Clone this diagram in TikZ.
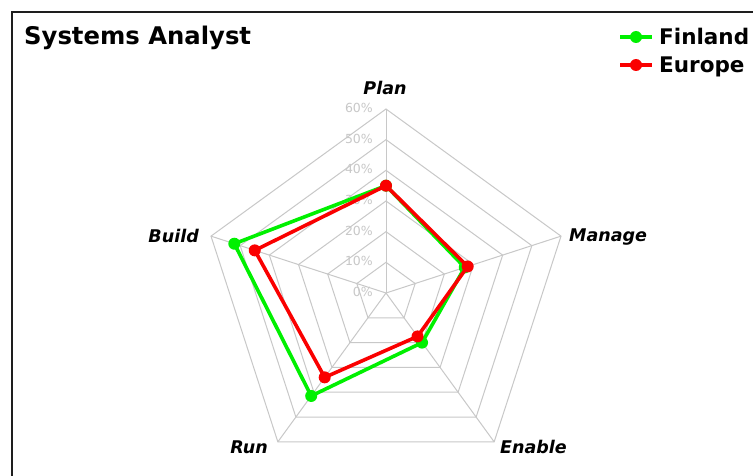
\documentclass[tikz,border=0pt]{standalone}
\usepackage{fontspec}
\setmainfont{DejaVu Sans}
\usetikzlibrary{calc}
\definecolor{gridgray}{RGB}{200,200,200}
\definecolor{fingreen}{RGB}{0,240,0}
\definecolor{eured}{RGB}{250,0,0}
\definecolor{framegray}{RGB}{30,30,30}
\tikzset{
  grid line/.style={draw=gridgray, line width=1pt},
  tick label/.style={text=gridgray, font=\fontsize{12.5}{12.5}\selectfont, anchor=east, inner sep=0pt},
  axis label/.style={font=\fontsize{17.5}{17.5}\selectfont\bfseries\itshape, inner sep=0pt},
  series line/.style={line width=3.6pt, line join=round},
  dot/.style={circle, fill=#1, inner sep=0pt, minimum size=12pt},
}
\begin{document}
\begin{tikzpicture}[x=1pt,y=1pt]
\useasboundingbox (0,0) rectangle (753,475);
\fill[white] (0,0) rectangle (753,475);
\begin{scope}
\clip (0,0) rectangle (753,475);
% chart frame
\draw[framegray, line width=2pt] (12,-20) rectangle (780,463);
\end{scope}

% title
\node[font=\fontsize{24.3}{25}\selectfont\bfseries, anchor=base west, inner sep=0pt] (title) at (24,430) {Systems Analyst};

% radar grid
\coordinate (c) at (386,182);
\def\stp{30.667}
\foreach \k in {1,...,6}{
  \draw[grid line] ($(c)+(90:\k*\stp)$) -- ($(c)+(18:\k*\stp)$) -- ($(c)+(-54:\k*\stp)$)
     -- ($(c)+(-126:\k*\stp)$) -- ($(c)+(162:\k*\stp)$) -- cycle;
}
\foreach \a/\nm in {90/plan,18/manage,-54/enable,-126/run,162/build}{
  \coordinate (ax-\nm) at ($(c)+(\a:6*\stp)$);
  \draw[grid line] (c) -- (ax-\nm);
}
\foreach \k/\lbl in {0/0,1/10,2/20,3/30,4/40,5/50,6/60}{
  \node[tick label] (tick\k) at ($(c)+(-13,\k*\stp+1)$) {\lbl\%};
}

% axis labels
\node[axis label, anchor=base] (lplan) at (385,380) {Plan};
\node[axis label, anchor=base west] (lmanage) at (569,234) {Manage};
\node[axis label, anchor=base west] (lenable) at (500,22) {Enable};
\node[axis label, anchor=base east] (lrun) at (268,22) {Run};
\node[axis label, anchor=base east] (lbuild) at (199,233) {Build};

% data points (values in percent)
\foreach \a/\nm/\f/\e in {90/plan/35/35,18/manage/27/28,-54/enable/20/17.5,-126/run/41.5/34,162/build/52/45}{
  \coordinate (f-\nm) at ($(c)+(\a:\f*\stp/10)$);
  \coordinate (e-\nm) at ($(c)+(\a:\e*\stp/10)$);
}
% Finland series
\draw[series line, fingreen] (f-plan) -- (f-manage) -- (f-enable) -- (f-run) -- (f-build) -- cycle;
\foreach \nm in {plan,manage,enable,run,build}{
  \node[dot=fingreen] (fd-\nm) at (f-\nm) {};
}
% Europe series
\draw[series line, eured] (e-plan) -- (e-manage) -- (e-enable) -- (e-run) -- (e-build) -- cycle;
\foreach \nm in {plan,manage,enable,run,build}{
  \node[dot=eured] (ed-\nm) at (e-\nm) {};
}

% legend
\coordinate (lg1a) at (620,438);
\coordinate (lg1b) at (652,438);
\coordinate (lg2a) at (620,410);
\coordinate (lg2b) at (652,410);
\draw[fingreen, line width=3.6pt] (lg1a) -- (lg1b);
\node[dot=fingreen] (lgdot1) at ($(lg1a)!0.5!(lg1b)$) {};
\draw[eured, line width=3.6pt] (lg2a) -- (lg2b);
\node[dot=eured] (lgdot2) at ($(lg2a)!0.5!(lg2b)$) {};
\node[font=\fontsize{21.5}{22}\selectfont\bfseries, anchor=base west, inner sep=0pt] (lgfin) at (659,430) {Finland};
\node[font=\fontsize{21.5}{22}\selectfont\bfseries, anchor=base west, inner sep=0pt] (lgeu) at (659,402) {Europe};
\end{tikzpicture}
\end{document}
